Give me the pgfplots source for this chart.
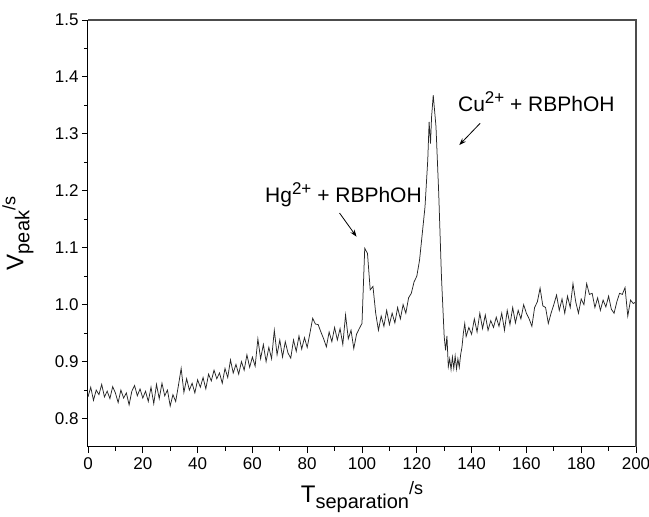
\documentclass[border=0pt]{standalone}
\usepackage{fontspec}
\setmainfont{Liberation Sans}
\usepackage{pgfplots}
\pgfplotsset{compat=1.18}
\usetikzlibrary{arrows.meta}

\pgfplotstableread{
t v
0 0.838
1 0.855
2 0.832
3 0.850
4 0.842
5 0.860
6 0.838
7 0.848
8 0.835
9 0.856
10 0.845
11 0.828
12 0.850
13 0.836
14 0.845
15 0.824
16 0.848
17 0.858
18 0.840
19 0.852
20 0.836
21 0.848
22 0.830
23 0.855
24 0.826
25 0.860
26 0.835
27 0.862
28 0.840
29 0.850
30 0.822
31 0.842
32 0.830
33 0.858
34 0.888
35 0.846
36 0.870
37 0.850
38 0.862
39 0.845
40 0.868
41 0.855
42 0.872
43 0.852
44 0.878
45 0.866
46 0.885
47 0.870
48 0.880
49 0.862
50 0.888
51 0.872
52 0.903
53 0.880
54 0.895
55 0.878
56 0.900
57 0.885
58 0.912
59 0.890
60 0.908
61 0.892
62 0.940
63 0.905
64 0.930
65 0.900
66 0.925
67 0.905
68 0.955
69 0.912
70 0.938
71 0.908
72 0.935
73 0.915
74 0.906
75 0.938
76 0.918
77 0.945
78 0.922
79 0.942
80 0.925
81 0.950
82 0.976
83 0.966
84 0.965
85 0.952
86 0.940
87 0.926
88 0.952
89 0.935
90 0.960
91 0.938
92 0.958
93 0.930
94 0.982
95 0.940
96 0.955
97 0.923
98 0.948
99 0.958
100 0.967
101 1.099
102 1.090
103 1.026
104 1.032
105 0.985
106 0.955
107 0.980
108 0.962
109 0.990
110 0.965
111 0.985
112 0.968
113 0.995
114 0.975
115 1.000
116 0.985
117 1.012
118 1.020
119 1.040
120 1.050
121 1.078
122 1.125
123 1.172
124 1.254
124.5 1.321
125 1.283
125.4 1.330
126 1.368
127 1.313
128 1.196
129 1.049
130 0.944
130.5 0.920
131 0.945
131.5 0.891
132 0.905
132.5 0.886
133 0.908
133.5 0.888
134 0.910
134.5 0.887
135 0.905
135.5 0.890
136 0.912
136.5 0.926
137 0.950
137.5 0.967
138 0.944
139 0.960
140 0.948
141 0.975
142 0.952
143 0.985
144 0.958
145 0.982
146 0.955
147 0.972
148 0.960
149 0.978
150 0.962
151 0.985
152 0.955
153 0.990
154 0.965
155 0.995
156 0.968
157 0.990
158 0.975
159 1.000
160 0.985
161 0.975
162 0.962
163 0.995
164 1.005
165 1.029
166 0.998
167 0.995
168 0.967
169 0.985
170 1.000
171 1.017
172 0.990
173 1.010
174 0.985
175 1.015
176 0.995
177 1.037
178 1.005
179 0.985
180 1.010
181 1.000
182 1.037
183 1.018
184 1.020
185 0.995
186 1.012
187 0.990
188 1.008
189 0.996
190 1.015
191 0.992
192 0.985
193 1.005
194 1.020
195 1.018
196 1.030
197 0.980
198 1.008
199 1.002
200 1.005
}\signal

\begin{document}
\begin{tikzpicture}
\path[use as bounding box] (-88pt,-70pt) rectangle (561pt,447pt);
\begin{axis}[
    at={(0,0)}, anchor=south west,
    width=548pt, height=427pt,
    scale only axis,
    xmin=0, xmax=200,
    ymin=0.75, ymax=1.5,
    xtick={0,20,...,200},
    minor x tick num=1,
    ytick={0.8,0.9,...,1.5},
    minor y tick num=1,
    xtick pos=bottom,
    ytick pos=left,
    tick align=outside,
    major tick length=6pt,
    minor tick length=4pt,
    axis line style={line width=1pt, black},
    every tick/.style={line width=0.9pt, black},
    ticklabel style={font=\fontsize{17}{20}\selectfont},
    yticklabel style={/pgf/number format/fixed, /pgf/number format/fixed zerofill, /pgf/number format/precision=1},
    /pgf/number format/assume math mode=true,
    xticklabel style={yshift=-1pt},
    xlabel={\fontsize{24}{26}\selectfont T\raisebox{-6pt}{\fontsize{20}{22}\selectfont separation}\raisebox{8pt}{\fontsize{18}{20}\selectfont /s}},
    ylabel={\fontsize{24}{26}\selectfont V\raisebox{-6pt}{\fontsize{20}{22}\selectfont peak}\raisebox{8pt}{\fontsize{18}{20}\selectfont /s}},
    xlabel style={at={(axis description cs:0.5,-0.118)}, anchor=center},
    ylabel style={at={(axis description cs:-0.128,0.5)}, anchor=center},
    clip=false,
]
\addplot[black!85, line width=0.75pt] table[x=t, y=v] {\signal};

\node[anchor=base west, inner sep=0pt, font=\fontsize{21}{24}\selectfont]
    at (axis cs:64.6,1.1786) {Hg\raisebox{8pt}{\fontsize{17}{18}\selectfont 2+} + RBPhOH};
\node[anchor=base west, inner sep=0pt, font=\fontsize{21}{24}\selectfont]
    at (axis cs:135,1.339) {Cu\raisebox{8pt}{\fontsize{17}{18}\selectfont 2+} + RBPhOH};
\draw[-{Stealth[length=7pt,width=5pt]}, line width=0.8pt] (axis cs:91.8,1.161) -- (axis cs:98.0,1.1194);
\draw[-{Stealth[length=7pt,width=5pt]}, line width=0.8pt] (axis cs:143.1,1.3185) -- (axis cs:135.5,1.2804);
\end{axis}
% top and right sides of the frame
\draw[line width=2pt, black!70] (0pt,427pt) -- (548pt,427pt) -- (548pt,0pt);
\end{tikzpicture}
\end{document}
